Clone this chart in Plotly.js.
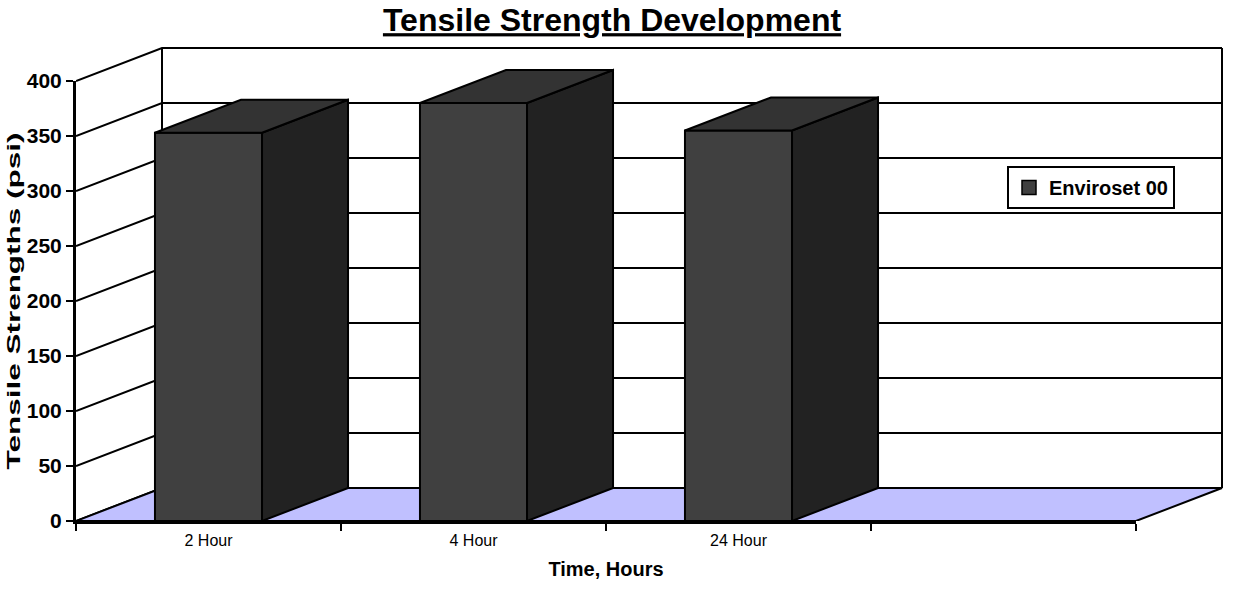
<!DOCTYPE html>
<html>
<head>
<meta charset="utf-8">
<script src="https://cdn.plot.ly/plotly-3.0.1.min.js"></script>
<style>html,body{margin:0;padding:0;background:#fff;}#chart{width:1233px;height:597px;}</style>
</head>
<body>
<div id="chart"></div>
<script>
// ---- data ----
var categories = ['2 Hour', '4 Hour', '24 Hour', ' '];
var seriesName = 'Enviroset 00';
var seriesValues = [353, 380, 355];
var yTickVals = [0, 50, 100, 150, 200, 250, 300, 350, 400];
var chartTitle = 'Tensile Strength Development';
var xTitle = 'Time, Hours';
var yTitle = 'Tensile Strengths (psi)';

// ---- geometry (oblique 3D projection in data units) ----
var W = 1233, H = 597;
var mL = 76, mR = 8, mT = 44, mB = 76;
var pxPerCat = 265, pxPerVal = 1.1;
var plotW = W - mL - mR, plotH = H - mT - mB;
var nCat = categories.length;
var yMax = 400;
var dx = 86 / pxPerCat;   // depth offset in category units
var dy = 33 / pxPerVal;   // depth offset in value units
var barW = 0.404;

var traces = [];
function lineTrace(xs, ys, color, width) {
  return {type: 'scatter', mode: 'lines', x: xs, y: ys, xaxis: 'x', yaxis: 'y',
    line: {color: color, width: width}, hoverinfo: 'skip', showlegend: false};
}
function polyTrace(xs, ys, fill) {
  return {type: 'scatter', mode: 'lines', x: xs, y: ys, xaxis: 'x', yaxis: 'y',
    fill: 'toself', fillcolor: fill, line: {color: '#000', width: 2},
    hoverinfo: 'skip', showlegend: false};
}

// walls: gridlines on back wall and side wall
var gx = [], gy = [];
yTickVals.forEach(function (v) {
  gx.push(0, dx, nCat + dx, null);
  gy.push(v, v + dy, v + dy, null);
});
gx.push(dx, dx, null, nCat + dx, nCat + dx, null);
gy.push(dy, yMax + dy, null, dy, yMax + dy, null);
traces.push(lineTrace(gx, gy, '#000', 2));

// floor
traces.push(polyTrace([0, nCat, nCat + dx, dx, 0], [0, 0, dy, dy, 0], '#C0C0FF'));

// bars
var fx = [], fy = [], sx = [], sy = [], tx = [], ty = [];
seriesValues.forEach(function (v, i) {
  var c = i + 0.5, a = c - barW / 2, b = c + barW / 2;
  fx.push(a, b, b, a, a, null); fy.push(0, 0, v, v, 0, null);
  sx.push(b, b + dx, b + dx, b, b, null); sy.push(0, dy, v + dy, v, 0, null);
  tx.push(a, b, b + dx, a + dx, a, null); ty.push(v, v, v + dy, v + dy, v, null);
});
traces.push(polyTrace(fx, fy, '#404040'));
traces.push(polyTrace(sx, sy, '#222222'));
traces.push(polyTrace(tx, ty, '#333333'));

// legend entry
traces.push({type: 'scatter', mode: 'markers', name: seriesName, x: [null], y: [null],
  xaxis: 'x', yaxis: 'y',
  marker: {symbol: 'square', size: 14, color: '#404040', line: {color: '#000', width: 1.5}},
  showlegend: true, hoverinfo: 'skip'});

// category holder for the front axes
traces.push({type: 'scatter', mode: 'markers', x: categories, y: categories.map(function () { return null; }),
  xaxis: 'x2', yaxis: 'y2', showlegend: false, hoverinfo: 'skip', marker: {opacity: 0}});

var layout = {
  width: W, height: H, autosize: false,
  margin: {l: mL, r: mR, t: mT, b: mB, pad: 0},
  paper_bgcolor: '#fff', plot_bgcolor: 'rgba(0,0,0,0)',
  font: {family: 'Liberation Sans, Arial, sans-serif', color: '#000'},
  title: {text: '<u>' + chartTitle + '</u>', x: 612 / W, xref: 'container', xanchor: 'center',
    y: 1 - 20 / H, yref: 'container', yanchor: 'middle',
    font: {size: 32, weight: 'bold', color: '#000', family: 'Liberation Sans, Arial, sans-serif'}},
  showlegend: true,
  legend: {x: (1007 - mL) / plotW, y: (521 - 166) / plotH, xanchor: 'left', yanchor: 'top',
    bgcolor: '#fff', bordercolor: '#000', borderwidth: 2,
    font: {size: 20, weight: 'bold', color: '#000'}, itemwidth: 30},
  xaxis: {domain: [0, 1], range: [0, plotW / pxPerCat], visible: false, fixedrange: true},
  yaxis: {domain: [0, 1], range: [0, plotH / pxPerVal], visible: false, fixedrange: true},
  xaxis2: {domain: [0, (nCat * pxPerCat) / plotW], anchor: 'y2', type: 'category',
    categoryorder: 'array', categoryarray: categories, range: [-0.5, nCat - 0.5],
    tickson: 'boundaries', ticks: 'outside', ticklen: 7, tickwidth: 2, tickcolor: '#000',
    showline: true, linecolor: '#000', linewidth: 3, showgrid: false, zeroline: false,
    tickfont: {size: 16, color: '#000'}, ticklabelstandoff: 3,
    title: {text: xTitle, standoff: 14, font: {size: 20, weight: 'bold', color: '#000'}}},
  yaxis2: {domain: [0, (yMax * pxPerVal) / plotH], anchor: 'x2', range: [0, yMax],
    tickvals: yTickVals, ticks: 'outside', ticklen: 7, tickwidth: 2, tickcolor: '#000',
    showline: true, linecolor: '#000', linewidth: 3, showgrid: false, zeroline: false,
    tickfont: {size: 21, weight: 'bold', color: '#000'}, ticklabelstandoff: 0,
    title: {text: yTitle, standoff: 4, font: {size: 18, weight: 'bold', color: '#000'}}}
};

Plotly.newPlot('chart', traces, layout, {staticPlot: true, displayModeBar: false}).then(function (gd) {
  // the reference's rotated axis title is drawn stretched along its length
  var t = gd.querySelector('.g-y2title text');
  if (t) {
    var x = parseFloat(t.getAttribute('x')), y = parseFloat(t.getAttribute('y'));
    var tr = t.getAttribute('transform') || '';
    t.setAttribute('transform', 'translate(2,0) ' + tr + ' translate(' + x + ',' + y + ') scale(1.75,1) translate(' + (-x) + ',' + (-y) + ')');
  }
});
</script>
</body>
</html>
